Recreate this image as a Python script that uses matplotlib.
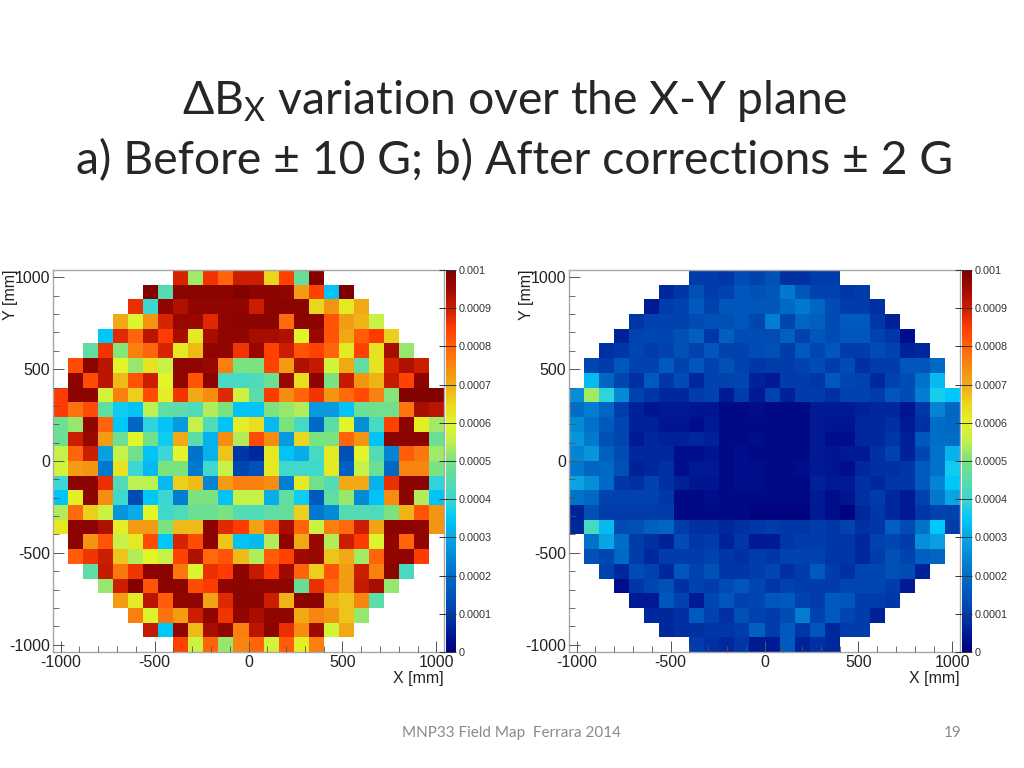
import numpy as np
import matplotlib
matplotlib.use('Agg')
import matplotlib.pyplot as plt
from matplotlib.colors import LinearSegmentedColormap
from matplotlib.ticker import MultipleLocator

plt.rcParams['font.family'] = ['Liberation Sans', 'DejaVu Sans']
plt.rcParams['axes.unicode_minus'] = False
plt.rcParams['mathtext.fontset'] = 'custom'
plt.rcParams['mathtext.rm'] = 'Lato'
plt.rcParams['mathtext.it'] = 'Lato:italic'
plt.rcParams['mathtext.bf'] = 'Lato:bold'

# bin edges of the 2d histogram [mm]
edges = np.linspace(-1040, 1040, 27)

# first filled column in each row, top row first (rows are centred in the circle)
row_start = [8, 6, 5, 4, 3, 2, 1, 1, 0, 0, 0, 0, 0, 0, 0, 0, 0, 0, 1, 1, 2, 3, 4, 5, 6, 8]

# values in units of 1e-4, top row first
before = [
    [8.9, 5.3, 8.6, 8.0, 9.0, 9.0, 6.5, 8.4, 4.7, 9.9],
    [9.9, 4.4, 9.8, 9.8, 9.8, 9.8, 9.9, 9.8, 9.8, 9.7, 7.2, 8.4, 3.4, 10],
    [8.7, 4.0, 9.7, 9.3, 9.7, 9.7, 9.7, 9.7, 9.0, 9.8, 9.8, 9.8, 6.5, 7.3, 6.2, 7.0],
    [7.0, 5.9, 7.3, 8.9, 9.6, 9.6, 8.8, 9.7, 9.8, 9.8, 9.8, 7.9, 9.8, 9.8, 8.2, 7.2, 6.9, 5.6],
    [3.5, 8.8, 8.0, 9.2, 8.5, 9.4, 6.2, 9.4, 9.7, 9.7, 9.4, 9.4, 9.3, 6.0, 9.6, 8.2, 7.0, 8.1, 8.5, 6.6],
    [4.6, 8.6, 5.1, 7.6, 8.0, 8.9, 6.2, 6.8, 9.7, 9.7, 8.6, 9.6, 8.4, 9.0, 8.2, 8.4, 8.0, 6.2, 8.4, 6.3, 9.4, 5.2],
    [8.3, 9.8, 9.2, 6.0, 5.2, 6.3, 5.6, 9.7, 9.7, 9.6, 7.6, 5.0, 5.0, 8.4, 7.2, 9.3, 9.1, 5.8, 7.0, 4.6, 6.3, 8.9, 9.3, 9.0],
    [9.8, 8.3, 9.2, 6.8, 8.2, 9.0, 6.0, 9.7, 8.2, 9.8, 4.2, 4.2, 4.3, 4.8, 9.6, 6.4, 9.8, 5.0, 9.1, 7.3, 6.9, 9.1, 8.4, 9.8],
    [8.5, 9.8, 9.8, 5.8, 7.6, 6.6, 8.3, 6.1, 8.6, 7.0, 7.4, 8.8, 5.7, 4.5, 8.5, 7.4, 8.0, 8.6, 7.3, 7.9, 8.3, 7.6, 5.1, 9.9, 9.9, 9.9],
    [8.5, 7.8, 8.3, 4.6, 3.6, 3.4, 5.5, 4.6, 4.5, 4.3, 5.4, 5.0, 3.4, 3.4, 5.0, 5.2, 5.4, 2.8, 2.8, 3.4, 4.8, 4.9, 4.9, 7.7, 9.4, 9.2],
    [4.8, 5.2, 9.7, 8.0, 3.5, 1.8, 3.9, 3.4, 2.8, 5.6, 4.3, 3.4, 6.1, 6.4, 3.3, 5.0, 4.2, 1.9, 4.5, 6.0, 2.6, 4.2, 8.4, 9.8, 6.1, 5.3],
    [4.8, 9.0, 9.6, 7.2, 4.8, 6.0, 4.9, 3.6, 7.0, 4.5, 3.2, 7.4, 5.4, 8.3, 7.4, 2.8, 6.5, 5.0, 5.0, 8.0, 7.3, 3.4, 9.8, 9.8, 9.8, 4.8],
    [5.6, 8.0, 9.0, 2.9, 5.6, 4.9, 3.4, 4.0, 6.0, 2.1, 3.2, 6.7, 0.9, 0.7, 6.2, 3.4, 3.1, 4.2, 6.2, 1.4, 6.0, 4.4, 2.4, 8.1, 7.7, 5.3],
    [5.8, 7.2, 7.3, 2.2, 6.3, 4.0, 3.3, 5.0, 5.0, 2.2, 4.1, 5.6, 1.2, 1.4, 6.2, 4.1, 4.1, 4.1, 6.2, 1.7, 5.6, 4.8, 1.9, 7.5, 7.5, 5.0],
    [4.0, 9.8, 9.8, 8.7, 4.3, 5.5, 5.5, 3.3, 6.6, 6.8, 2.4, 7.2, 7.6, 7.6, 7.4, 2.3, 6.2, 4.9, 4.4, 7.0, 7.0, 3.2, 8.7, 9.8, 9.8, 3.9],
    [3.4, 6.1, 9.8, 7.4, 4.1, 1.3, 3.5, 4.0, 2.3, 5.0, 5.0, 3.4, 5.6, 5.6, 3.1, 4.6, 3.6, 1.6, 4.6, 5.2, 2.5, 3.4, 7.4, 9.8, 5.4, 3.4],
    [5.4, 7.9, 6.6, 5.7, 2.7, 3.1, 6.0, 4.1, 4.3, 4.8, 4.8, 5.0, 4.4, 4.3, 4.6, 4.7, 6.6, 2.2, 2.5, 4.4, 4.4, 4.3, 5.0, 6.9, 8.2, 7.3],
    [6.2, 9.8, 9.8, 9.3, 6.1, 7.2, 7.2, 5.0, 6.8, 6.8, 9.8, 8.8, 8.5, 7.1, 8.1, 9.4, 8.0, 5.7, 7.6, 7.9, 9.0, 7.1, 9.8, 9.8, 9.7, 7.3],
    [9.8, 7.3, 8.2, 5.6, 6.2, 8.3, 3.5, 8.9, 8.3, 9.8, 6.7, 3.4, 3.3, 5.4, 9.8, 7.0, 9.6, 5.4, 9.0, 8.5, 5.9, 9.7, 8.0, 9.7],
    [8.1, 8.6, 9.0, 6.7, 5.4, 6.0, 5.6, 8.4, 9.3, 7.9, 8.2, 6.8, 5.4, 8.1, 8.4, 9.5, 9.6, 6.7, 7.0, 5.3, 8.0, 9.7, 9.7, 8.5],
    [4.6, 9.1, 7.7, 8.6, 9.8, 9.8, 7.7, 5.9, 8.7, 8.5, 9.8, 9.1, 8.5, 9.5, 8.0, 6.6, 8.2, 7.2, 9.0, 7.6, 9.8, 4.2],
    [5.2, 9.0, 9.9, 8.2, 9.8, 9.8, 8.3, 8.5, 9.7, 9.8, 9.7, 9.7, 9.7, 4.7, 8.7, 7.9, 7.2, 9.1, 9.4, 5.2],
    [7.2, 6.2, 9.2, 8.1, 9.7, 9.7, 7.1, 8.8, 9.8, 9.8, 9.0, 6.9, 9.8, 9.8, 6.9, 6.7, 7.5, 4.5],
    [7.6, 5.9, 7.8, 7.2, 9.0, 9.7, 8.6, 9.7, 9.4, 9.7, 9.7, 7.0, 7.5, 7.3, 6.7, 5.2],
    [9.1, 3.5, 9.7, 6.8, 9.4, 9.7, 7.6, 9.2, 9.8, 8.7, 7.4, 9.5, 5.8, 7.0],
    [8.4, 5.7, 8.0, 5.2, 7.5, 8.0, 5.8, 8.1, 6.1, 7.6],
]

after = [
    [1.0, 1.0, 0.9, 1.3, 1.1, 1.4, 0.8, 0.8, 1.0, 1.0],
    [0.7, 0.9, 1.4, 1.0, 1.1, 1.5, 1.4, 1.5, 2.2, 1.5, 1.1, 1.1, 0.9, 1.0],
    [0.5, 1.0, 1.1, 1.6, 1.1, 1.5, 1.5, 1.5, 1.5, 1.9, 2.2, 1.8, 1.3, 1.0, 1.0, 0.8],
    [0.9, 1.1, 1.1, 1.1, 1.3, 1.4, 1.4, 1.5, 1.2, 2.3, 1.2, 1.8, 1.7, 1.3, 1.6, 1.6, 0.9, 0.6],
    [0.6, 1.1, 1.2, 1.2, 1.4, 1.7, 0.9, 1.7, 1.3, 1.3, 1.3, 1.7, 1.1, 1.5, 1.3, 1.5, 1.5, 1.1, 0.9, 0.3],
    [0.8, 0.9, 1.2, 1.0, 1.1, 1.4, 1.1, 1.5, 1.1, 1.1, 1.3, 1.4, 1.0, 1.6, 1.2, 1.5, 1.0, 1.0, 1.3, 1.1, 0.6, 0.7],
    [1.2, 1.0, 1.5, 1.1, 1.1, 1.6, 1.1, 1.5, 1.1, 1.4, 1.1, 0.9, 1.0, 1.0, 1.1, 1.3, 1.0, 1.3, 0.8, 1.0, 1.0, 1.5, 1.5, 1.9],
    [3.3, 1.8, 1.2, 0.8, 1.6, 0.9, 1.3, 0.7, 1.1, 1.1, 1.2, 0.6, 0.5, 1.0, 1.0, 0.9, 1.5, 1.2, 1.1, 0.7, 1.1, 1.3, 2.1, 3.3],
    [2.6, 5.3, 3.9, 2.5, 1.1, 0.9, 0.7, 0.7, 1.0, 1.1, 0.5, 1.0, 0.5, 1.1, 0.6, 1.0, 1.0, 0.8, 1.1, 1.1, 1.0, 1.5, 1.3, 2.3, 3.7, 3.5],
    [2.0, 2.3, 1.8, 1.0, 0.6, 0.4, 0.5, 0.5, 0.4, 0.4, 0.2, 0.2, 0.3, 0.2, 0.2, 0.2, 0.5, 0.5, 0.5, 0.6, 0.7, 0.7, 0.4, 0.9, 2.4, 1.8],
    [2.5, 2.1, 1.6, 1.2, 0.6, 0.6, 0.4, 0.4, 0.3, 0.5, 0.2, 0.2, 0.2, 0.2, 0.2, 0.2, 0.5, 0.4, 0.4, 0.7, 0.7, 0.8, 0.5, 0.8, 2.0, 1.9],
    [2.7, 2.2, 1.4, 1.2, 0.5, 0.7, 0.6, 0.6, 0.7, 0.6, 0.2, 0.2, 0.3, 0.2, 0.2, 0.2, 0.5, 0.3, 0.3, 0.7, 0.7, 0.9, 0.6, 1.5, 2.0, 2.0],
    [2.4, 2.7, 1.7, 1.3, 0.7, 0.7, 0.7, 0.3, 0.3, 0.4, 0.2, 0.3, 0.2, 0.2, 0.2, 0.2, 0.5, 0.4, 0.5, 0.5, 0.8, 1.1, 0.6, 1.2, 2.1, 3.2],
    [2.2, 1.8, 1.9, 1.4, 0.6, 0.7, 0.8, 0.3, 0.5, 0.5, 0.2, 0.3, 0.3, 0.2, 0.2, 0.3, 0.5, 0.4, 0.3, 0.7, 0.8, 0.8, 0.9, 1.6, 2.1, 3.6],
    [3.0, 2.6, 1.9, 0.9, 0.8, 1.1, 0.8, 0.6, 0.4, 0.4, 0.2, 0.3, 0.3, 0.2, 0.2, 0.2, 0.6, 0.5, 0.5, 0.8, 0.7, 0.9, 0.9, 1.6, 2.4, 3.5],
    [2.1, 1.9, 1.1, 1.1, 1.1, 1.1, 0.9, 0.2, 0.2, 0.3, 0.2, 0.2, 0.2, 0.2, 0.2, 0.2, 0.5, 0.3, 0.4, 0.8, 1.0, 0.7, 0.5, 1.1, 2.2, 3.0],
    [0.6, 1.4, 1.0, 1.0, 1.0, 1.0, 1.0, 0.2, 0.2, 0.2, 0.2, 0.2, 0.1, 0.1, 0.1, 0.1, 0.5, 0.3, 0.1, 0.7, 0.9, 0.7, 0.5, 0.9, 1.1, 1.1],
    [0.7, 4.2, 3.3, 1.3, 1.4, 1.7, 1.8, 1.0, 0.8, 0.8, 0.7, 0.8, 0.9, 1.0, 0.9, 0.9, 1.0, 0.9, 1.1, 0.8, 0.9, 1.7, 1.3, 2.1, 3.5, 1.0],
    [2.1, 3.0, 2.0, 1.0, 0.8, 0.6, 1.3, 0.9, 1.0, 0.6, 0.9, 0.5, 0.5, 0.9, 1.0, 1.0, 0.9, 0.9, 0.7, 1.1, 1.2, 1.0, 2.6, 2.9],
    [1.4, 1.2, 1.9, 1.0, 0.7, 1.0, 1.0, 1.0, 1.1, 0.9, 0.8, 1.0, 0.9, 1.1, 1.1, 1.1, 0.9, 0.9, 0.7, 1.0, 1.4, 1.1, 1.7, 1.8],
    [1.1, 0.7, 1.3, 1.1, 0.7, 1.5, 1.1, 1.4, 0.9, 0.9, 1.0, 1.2, 0.8, 1.0, 1.6, 1.0, 0.8, 1.2, 1.2, 1.4, 1.3, 0.6],
    [0.3, 0.9, 1.2, 1.4, 0.8, 1.1, 1.0, 1.3, 1.5, 1.2, 0.9, 1.1, 1.0, 1.0, 1.0, 1.2, 1.2, 1.2, 1.0, 0.5],
    [0.5, 0.5, 1.5, 1.1, 0.5, 1.2, 1.5, 1.1, 1.2, 1.5, 1.6, 1.1, 1.0, 1.6, 1.5, 1.0, 1.0, 0.9],
    [0.7, 0.7, 0.8, 1.6, 1.1, 0.8, 1.4, 1.1, 1.0, 1.3, 2.3, 1.1, 1.6, 1.2, 1.0, 0.6],
    [0.7, 0.8, 0.8, 0.9, 0.9, 1.0, 1.7, 1.0, 1.6, 0.9, 1.5, 0.7, 1.0, 1.0],
    [1.0, 0.8, 0.7, 0.9, 0.5, 0.5, 1.6, 0.6, 0.8, 0.7],
]

xy_ticks = [-1000, -500, 0, 500, 1000]
cbar_ticks = [0, 0.0001, 0.0002, 0.0003, 0.0004, 0.0005, 0.0006, 0.0007, 0.0008, 0.0009, 0.001]
cbar_labels = ['0', '0.0001', '0.0002', '0.0003', '0.0004', '0.0005', '0.0006', '0.0007', '0.0008', '0.0009', '0.001']

# palette
palette_pos = [0, 0.03, 0.1, 0.2, 0.3, 0.35, 0.4, 0.5, 0.55, 0.6, 0.65, 0.7, 0.8, 0.85, 0.9, 0.95, 1.0]
palette_rgb = [(0, 0, 125), (0, 15, 140), (0, 62, 172), (0, 110, 200), (10, 165, 228), (0, 200, 250), (60, 215, 210),
               (120, 225, 130), (190, 240, 80), (225, 245, 40), (235, 215, 30), (240, 170, 20),
               (255, 100, 10), (255, 60, 0), (205, 30, 0), (160, 10, 0), (125, 0, 0)]

W, H = 1024, 768
FRAME = '#a8a8a8'
TICK = '#555555'

cmap = LinearSegmentedColormap.from_list(
    'root_rainbow', [(p, tuple(c / 255 for c in rgb)) for p, rgb in zip(palette_pos, palette_rgb)])


def px_axes(fig, x0, y0, x1, y1):
    return fig.add_axes([x0 / W, 1 - y1 / H, (x1 - x0) / W, (y1 - y0) / H])


def to_grid(rows):
    grid = np.full((26, 26), np.nan)
    for i, row in enumerate(rows):
        grid[25 - i, row_start[i]:row_start[i] + len(row)] = row
    return np.ma.masked_invalid(grid * 1e-4)


def draw_panel(fig, rows, x0):
    ax = px_axes(fig, x0, 270, x0 + 391, 652)
    mesh = ax.pcolormesh(edges, edges, to_grid(rows), cmap=cmap, vmin=0, vmax=0.001,
                         antialiased=False, linewidth=0, rasterized=True)
    ax.set_xlim(-1040, 1040)
    ax.set_ylim(-1040, 1040)
    ax.set_xticks(xy_ticks)
    ax.set_yticks(xy_ticks)
    ax.xaxis.set_minor_locator(MultipleLocator(100))
    ax.yaxis.set_minor_locator(MultipleLocator(100))
    ax.tick_params(which='major', direction='in', length=8, width=0.7, color=TICK,
                   labelsize=11.5, labelcolor='#222222', pad=2)
    ax.tick_params(which='minor', direction='in', length=4, width=0.6, color=TICK)
    ax.set_axisbelow(False)
    for s in ax.spines.values():
        s.set_color(FRAME)
        s.set_linewidth(1.0)
    fig.text((x0 + 391) / W, 1 - 678 / H, 'X [mm]', ha='right', va='center',
             fontsize=11.5, color='#222222')
    fig.text((x0 - 43) / W, 1 - 269 / H, 'Y [mm]', ha='center', va='top', rotation=90,
             fontsize=11.5, color='#222222')

    cax = px_axes(fig, x0 + 393, 270, x0 + 403, 652)
    cb = fig.colorbar(mesh, cax=cax)
    cb.set_ticks(cbar_ticks)
    cb.set_ticklabels(cbar_labels)
    cb.outline.set_visible(False)
    cb.minorticks_off()
    cax.tick_params(direction='in', length=12, width=0.7, color='#333333',
                    labelsize=7.8, labelcolor='#333333', pad=2)


fig = plt.figure(figsize=(W / 100, H / 100), dpi=100)

draw_panel(fig, before, 53)
draw_panel(fig, after, 569)

# slide title and footer
title_color = '#262626'
fig.text(515 / W, 1 - 101 / H, r'$\mathrm{\Delta B_X}$ variation over the X-Y plane',
         ha='center', va='center', fontsize=33.3, family=['Lato', 'DejaVu Sans'], color=title_color)
fig.text(515 / W, 1 - 161 / H, 'a) Before ± 10 G; b) After corrections ± 2 G',
         ha='center', va='center', fontsize=33.3, family=['Lato', 'DejaVu Sans'], color=title_color)
fig.text(511.5 / W, 1 - 733 / H, 'MNP33 Field Map  Ferrara 2014', ha='center', va='center',
         fontsize=11, family=['Lato', 'DejaVu Sans'], color='#8a8a8a')
fig.text(953 / W, 1 - 733 / H, '19', ha='center', va='center',
         fontsize=11, family=['Lato', 'DejaVu Sans'], color='#8a8a8a')

fig.savefig('out.png', dpi=100)
